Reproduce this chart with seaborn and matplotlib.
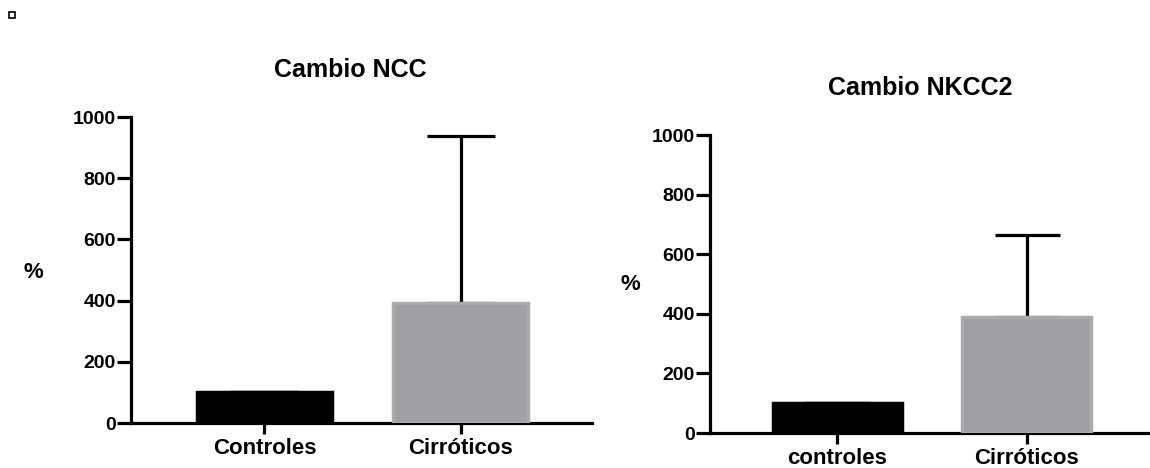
import numpy as np
import pandas as pd
import seaborn as sns
import matplotlib.pyplot as plt
from matplotlib.patches import Rectangle

# Data
ncc_groups = ['Controles', 'Cirróticos']
ncc_mean = [100, 393]
ncc_sd = [0, 545]

nkcc2_groups = ['controles', 'Cirróticos']
nkcc2_mean = [100, 388]
nkcc2_sd = [0, 275]

yticks = [0, 200, 400, 600, 800, 1000]

sns.set_style('white')
plt.rcParams['font.family'] = ['Liberation Sans', 'DejaVu Sans']
plt.rcParams['font.weight'] = 'bold'
plt.rcParams['text.color'] = 'black'

W, H = 1150, 468
fig = plt.figure(figsize=(W / 100, H / 100), dpi=100)

fill_colors = ['#000000', '#A0A0A4']
edge_colors = ['#000000', '#ABABAB']


def panel(rect, groups, means, sds, xlim, bar_w, cap):
    ax = fig.add_axes(rect)
    df = pd.DataFrame({'group': groups, 'value': means})
    sns.barplot(data=df, x='group', y='value', hue='group', palette=fill_colors,
                legend=False, width=bar_w, ax=ax, linewidth=2.5, saturation=1)
    for p, ec in zip(ax.patches, edge_colors):
        p.set_edgecolor(ec)
        p.set_zorder(3)
    ax.errorbar(x=np.arange(len(groups)), y=means, yerr=[np.zeros(len(sds)), sds],
                fmt='none', ecolor='black', elinewidth=2.3, capsize=cap,
                capthick=2.3, zorder=2)
    ax.set_ylim(0, 1000)
    ax.set_xlim(*xlim)
    ax.set_yticks(yticks)
    ax.set_xlabel('')
    ax.set_ylabel('')
    sns.despine(ax=ax)
    for s in ['left', 'bottom']:
        ax.spines[s].set_linewidth(2.3)
        ax.spines[s].set_color('black')
    ax.tick_params(axis='y', direction='out', length=10, width=2.3, pad=1,
                   labelsize=14, left=True, colors='black')
    ax.tick_params(axis='x', direction='out', length=8, width=2.3, pad=3,
                   labelsize=16, bottom=True, colors='black')
    for t in ax.get_xticklabels() + ax.get_yticklabels():
        t.set_fontweight('bold')
    return ax


panel([131 / W, 1 - 423 / H, (592 - 131) / W, (423 - 117) / H],
      ncc_groups, ncc_mean, ncc_sd, (-0.68, 1.67), 0.69, 24.5)
panel([710 / W, 1 - 433 / H, (1148 - 710) / W, (433 - 135) / H],
      nkcc2_groups, nkcc2_mean, nkcc2_sd, (-0.67, 1.64), 0.68, 23.4)

fig.text(350 / W, 1 - 77 / H, 'Cambio NCC', ha='center', va='baseline',
         fontsize=18, fontweight='bold', color='black')
fig.text(920 / W, 1 - 95 / H, 'Cambio NKCC2', ha='center', va='baseline',
         fontsize=18, fontweight='bold', color='black')
fig.text(33 / W, 1 - 272 / H, '%', ha='center', va='center',
         fontsize=16, fontweight='bold', color='black')
fig.text(630 / W, 1 - 285 / H, '%', ha='center', va='center',
         fontsize=16, fontweight='bold', color='black')

# small square marker in the corner
fig.add_artist(Rectangle((9 / W, 1 - 18 / H), 6 / W, 6 / H, transform=fig.transFigure,
                         facecolor='white', edgecolor='black', linewidth=1.2))

fig.savefig('out.png', dpi=100)
